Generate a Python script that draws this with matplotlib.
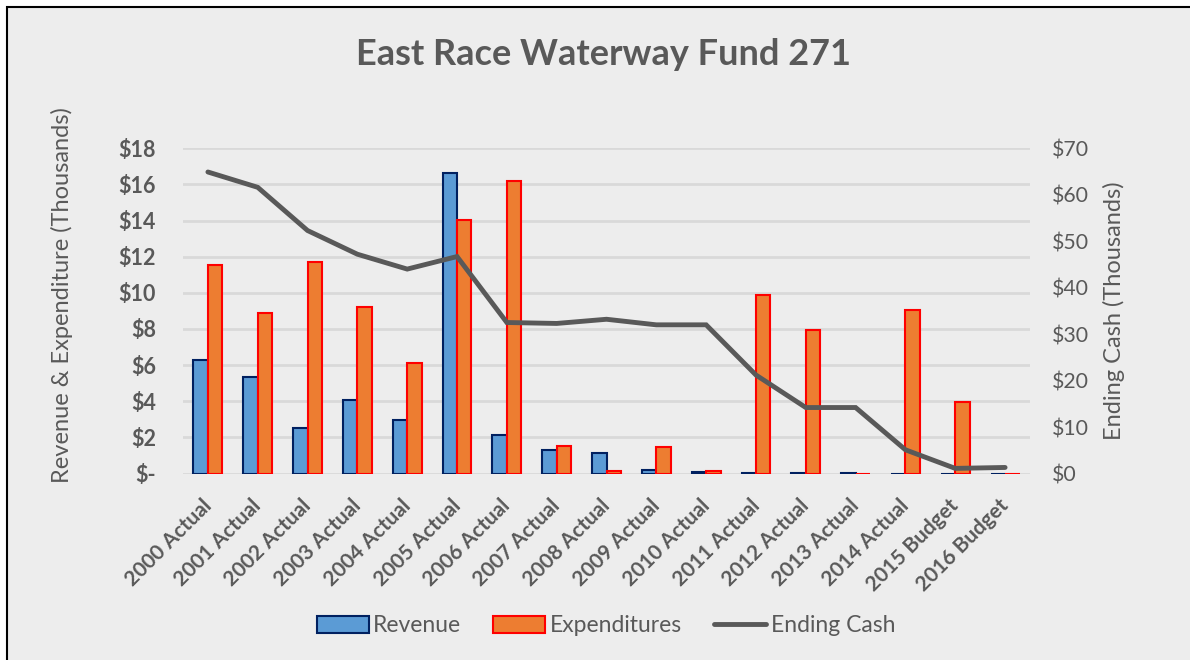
import matplotlib
matplotlib.use("Agg")
import matplotlib.pyplot as plt
import numpy as np
from matplotlib.patches import Rectangle
from matplotlib.lines import Line2D
from matplotlib.transforms import ScaledTranslation

categories = ["2000 Actual", "2001 Actual", "2002 Actual", "2003 Actual", "2004 Actual",
              "2005 Actual", "2006 Actual", "2007 Actual", "2008 Actual", "2009 Actual",
              "2010 Actual", "2011 Actual", "2012 Actual", "2013 Actual", "2014 Actual",
              "2015 Budget", "2016 Budget"]
revenue = [6.28, 5.33, 2.52, 4.09, 2.98, 16.64, 2.13, 1.28, 1.14, 0.21,
           0.08, 0.03, 0.04, 0.01, 0.0, 0.0, 0.0]
expenditures = [11.55, 8.89, 11.71, 9.24, 6.14, 14.02, 16.18, 1.52, 0.15, 1.45,
                0.14, 9.88, 7.96, 0.0, 9.05, 3.94, 0.0]
ending_cash = [64.9, 61.6, 52.3, 47.2, 44.0, 46.7, 32.5, 32.3, 33.2, 32.0,
               32.0, 21.2, 14.2, 14.2, 5.1, 1.1, 1.3]
left_ticks = [0, 2, 4, 6, 8, 10, 12, 14, 16, 18]
left_labels = ["$-", "$2", "$4", "$6", "$8", "$10", "$12", "$14", "$16", "$18"]
right_ticks = [0, 10, 20, 30, 40, 50, 60, 70]
right_labels = ["$0", "$10", "$20", "$30", "$40", "$50", "$60", "$70"]

plt.rcParams['font.family'] = ['Lato', 'DejaVu Sans']
TXT = "#595959"
BG = "#EDEDED"

fig = plt.figure(figsize=(11.9, 6.6), dpi=100, facecolor="white")
fig.patches.append(Rectangle((7/1190, -0.01), 1.02, (660-7)/660 + 0.01, transform=fig.transFigure,
                             facecolor=BG, edgecolor="black", linewidth=1.5, zorder=-10))

ax = fig.add_axes([183/1190, (660-473.5)/660, (1030-183)/1190, (473.5-148.3)/660])
ax.set_facecolor(BG)
x = np.arange(len(categories))
w = 0.29
ax.bar(x - w/2, revenue, w, color="#5B9BD5", edgecolor="#002060", linewidth=1.5, zorder=3,
       label="Revenue")
ax.bar(x + w/2, expenditures, w, color="#ED7D31", edgecolor="#FF0000", linewidth=1.5, zorder=3,
       label="Expenditures")
ax.set_ylim(0, 18)
ax.set_xlim(-0.5, len(categories) - 0.5)
ax.set_yticks(left_ticks)
ax.set_yticklabels(left_labels, fontsize=15.5, fontweight="bold", color=TXT)
ax.set_xticks(x)
ax.tick_params(axis="x", length=0, pad=16)
ax.tick_params(axis="y", length=0, pad=19.5)
ax.set_xticklabels(categories, rotation=45, ha="right", rotation_mode="anchor",
                   fontsize=15, fontweight="bold", color=TXT)
for lab in ax.get_xticklabels():
    lab.set_transform(lab.get_transform() + ScaledTranslation(-4.7/72, 0, fig.dpi_scale_trans))
ax.grid(axis="y", color="#D9D9D9", linewidth=2, zorder=0)
for s in ax.spines.values():
    s.set_visible(False)
ax.set_ylabel("Revenue & Expenditure (Thousands)", fontsize=17, color=TXT)
ax.yaxis.set_label_coords((73 - 183) / 847, 0.55)

ax2 = ax.twinx()
ax2.plot(x, ending_cash, color="#595959", linewidth=3.5, zorder=4, label="Ending Cash",
         solid_capstyle="round", solid_joinstyle="miter")
ax2.set_ylim(0, 70)
ax2.set_yticks(right_ticks)
ax2.set_yticklabels(right_labels, fontsize=15.3, color=TXT)
ax2.tick_params(axis="y", length=0, pad=16)
for s in ax2.spines.values():
    s.set_visible(False)
ax2.set_ylabel("Ending Cash (Thousands)", fontsize=17, color=TXT)
ax2.yaxis.set_label_coords((1103 - 183) / 847, 0.5)

fig.text(0.507, 0.918, "East Race Waterway Fund 271", ha="center", va="center",
         fontsize=26, fontweight="bold", color=TXT)

handles = [Rectangle((0, 0), 1, 1, facecolor="#5B9BD5", edgecolor="#002060", linewidth=1.5),
           Rectangle((0, 0), 1, 1, facecolor="#ED7D31", edgecolor="#FF0000", linewidth=1.5),
           Line2D([0], [0], color="#595959", linewidth=3.5, solid_capstyle="round")]
leg = fig.legend(handles, ["Revenue", "Expenditures", "Ending Cash"], loc="center",
                 bbox_to_anchor=(606/1190, 1 - 626/660), ncol=3, frameon=False, fontsize=16.5,
                 handlelength=2.27, handleheight=0.7, handletextpad=0.2, columnspacing=1.4)
for t in leg.get_texts():
    t.set_color(TXT)

fig.savefig("out.png", dpi=100, facecolor="white")
